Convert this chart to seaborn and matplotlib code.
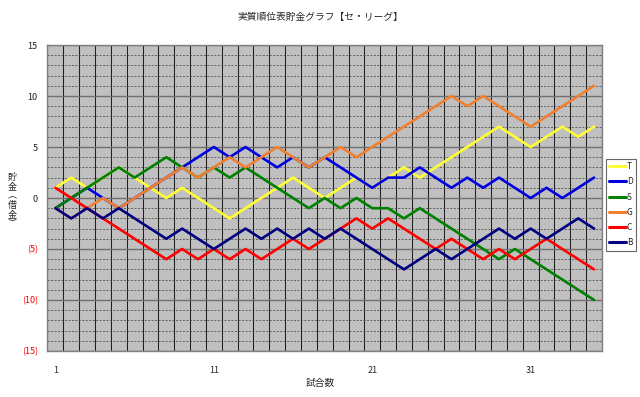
import numpy as np
import pandas as pd
import matplotlib
matplotlib.use("Agg")
import matplotlib.pyplot as plt
import seaborn as sns

# 試合ごとの貯金の推移
games = list(range(1, 36))
teams = ["T", "D", "S", "G", "C", "B"]
T = [1, 2, 1, 2, 3, 2, 1, 0, 1, 0, -1, -2, -1, 0, 1, 2, 1, 0, 1, 2,
     1, 2, 3, 2, 3, 4, 5, 6, 7, 6, 5, 6, 7, 6, 7]
D = [-1, 0, 1, 0, -1, 0, 1, 2, 3, 4, 5, 4, 5, 4, 3, 4, 3, 4, 3, 2,
     1, 2, 2, 3, 2, 1, 2, 1, 2, 1, 0, 1, 0, 1, 2]
S = [-1, 0, 1, 2, 3, 2, 3, 4, 3, 2, 3, 2, 3, 2, 1, 0, -1, 0, -1, 0,
     -1, -1, -2, -1, -2, -3, -4, -5, -6, -5, -6, -7, -8, -9, -10]
G = [-1, -2, -1, 0, -1, 0, 1, 2, 3, 2, 3, 4, 3, 4, 5, 4, 3, 4, 5, 4,
     5, 6, 7, 8, 9, 10, 9, 10, 9, 8, 7, 8, 9, 10, 11]
C = [1, 0, -1, -2, -3, -4, -5, -6, -5, -6, -5, -6, -5, -6, -5, -4, -5, -4, -3, -2,
     -3, -2, -3, -4, -5, -4, -5, -6, -5, -6, -5, -4, -5, -6, -7]
B = [-1, -2, -1, -2, -1, -2, -3, -4, -3, -4, -5, -4, -3, -4, -3, -4, -3, -4, -3, -4,
     -5, -6, -7, -6, -5, -6, -5, -4, -3, -4, -3, -4, -3, -2, -3]

ytick_vals = [15, 10, 5, 0, -5, -10, -15]
ytick_labels = ["15", "10", "5", "0", "(5)", "(10)", "(15)"]
xtick_vals = [1, 11, 21, 31]

colors = ["#FFFF33", "#0000E0", "#008000", "#F07F30", "#FF0000", "#000080"]

df = pd.DataFrame({"試合数": games * 6,
                   "貯金": T + D + S + G + C + B,
                   "team": [t for t in teams for _ in games]})

sns.set_theme(style="white")
plt.rcParams["font.family"] = ["Noto Sans CJK JP", "DejaVu Sans"]

fig = plt.figure(figsize=(6.4, 3.97), dpi=100)
ax = fig.add_axes([0.0742, 0.1159, 0.8664, 0.7707])
ax.set_facecolor("#C0C0C0")

sns.lineplot(data=df, x="試合数", y="貯金", hue="team", hue_order=teams,
             palette=colors, linewidth=1.9, ax=ax, legend=True)

ax.set_xlim(0.5, 35.5)
ax.set_ylim(-15, 15)

# 罫線
ax.set_xticks(xtick_vals)
ax.set_xticks(np.arange(0.5, 36, 1), minor=True)
ax.set_yticks(ytick_vals)
ax.set_yticks(np.arange(-15, 16, 1), minor=True)
ax.grid(False)
ax.grid(which="minor", axis="x", color="#202020", linewidth=0.75, linestyle="-")
ax.grid(which="minor", axis="y", color="#404040", linewidth=0.5, linestyle=(0, (3, 2)))
ax.grid(which="major", axis="y", color="#707070", linewidth=1.0, linestyle="-")
ax.set_axisbelow(True)

ax.set_yticklabels(ytick_labels)
for lab, v in zip(ax.get_yticklabels(), ytick_vals):
    lab.set_color("#FF0000" if v < 0 else "#202020")
ax.tick_params(axis="both", which="both", length=0, labelsize=6.5)
ax.tick_params(axis="y", pad=7)
ax.tick_params(axis="x", pad=11)

for sp in ax.spines.values():
    sp.set_color("#808080")
    sp.set_linewidth(1.0)

ax.set_xlabel("")
ax.set_ylabel("")
fig.text(0.5, 0.035, "試合数", ha="center", va="center", fontsize=7)
fig.text(0.5, 0.957, "実質順位表貯金グラフ【セ・リーグ】", ha="center", va="center", fontsize=7)
fig.text(0.019, 0.495, "貯\n金\n︵\n借\n金\n︶", ha="center", va="center",
         fontsize=6.5, linespacing=1.05)

handles, labels = ax.get_legend_handles_labels()
leg = ax.legend(handles, labels, loc="upper left", bbox_to_anchor=(0.947, 0.6),
                bbox_transform=fig.transFigure, fontsize=6, frameon=True,
                fancybox=False, edgecolor="#404040", handlelength=2.0,
                handletextpad=0.1, labelspacing=0.75, borderpad=0.4,
                borderaxespad=0)
leg.get_frame().set_linewidth(0.8)
for line in leg.get_lines():
    line.set_linewidth(2.2)

fig.savefig("out.png", dpi=100)
